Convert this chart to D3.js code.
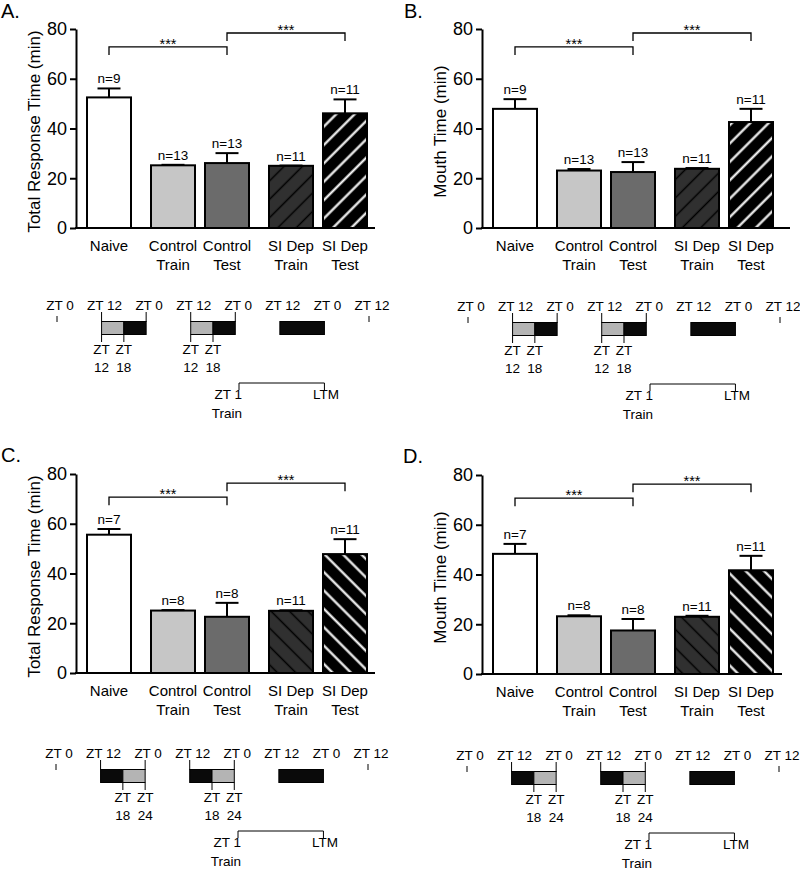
<!DOCTYPE html>
<html>
<head>
<meta charset="utf-8">
<script src="https://cdn.jsdelivr.net/npm/d3@7"></script>
<style>
  body { margin: 0; background: #fff; }
  svg { display: block; font-family: "Liberation Sans", Arial, Helvetica, sans-serif; }
</style>
</head>
<body>
<svg id="chart" width="800" height="870"></svg>
<script>
// ---------------- DATA ----------------
const categories = ["Naive", "Control Train", "Control Test", "SI Dep Train", "SI Dep Test"];
const categoryLines = [["Naive"], ["Control", "Train"], ["Control", "Test"], ["SI Dep", "Train"], ["SI Dep", "Test"]];
const categoryGroup = [0, 1, 1, 2, 2];
const yTicks = [0, 20, 40, 60, 80];

const meanA = [52.5, 25.2, 26.1, 25.0, 46.1];
const semA  = [3.6, 0.2, 4.0, 0.1, 5.6];
const nA    = [9, 13, 13, 11, 11];

const meanB = [47.9, 23.1, 22.5, 23.8, 42.6];
const semB  = [3.9, 0.6, 4.0, 0.3, 5.3];
const nB    = [9, 13, 13, 11, 11];

const meanC = [55.6, 25.1, 22.6, 25.0, 47.8];
const semC  = [2.3, 0.2, 5.6, 0.2, 6.0];
const nC    = [7, 8, 8, 11, 11];

const meanD = [48.3, 23.2, 17.5, 23.0, 41.7];
const semD  = [4.0, 0.4, 4.6, 0.4, 5.8];
const nD    = [7, 8, 8, 11, 11];

// significance brackets: [from category, to category, level (min)]
const sigTop    = [["Naive", "Control Test", 72.8, "***"], ["Control Test", "SI Dep Test", 78.4, "***"]];
const sigBottom = [["Naive", "Control Test", 70.7, "***"], ["Control Test", "SI Dep Test", 76.3, "***"]];

// timeline (hours from first ZT 0)
const ztHours  = [0, 12, 24, 36, 48, 60, 72, 84];
const ztLabels = ["ZT 0", "ZT 12", "ZT 0", "ZT 12", "ZT 0", "ZT 12", "ZT 0", "ZT 12"];
const boxEdgeTickHours = [12, 24, 36, 48];
const segmentsTop    = [[12, 18, "light"], [18, 24, "dark"], [36, 42, "light"], [42, 48, "dark"], [60, 72, "dark"]];
const segmentsBottom = [[12, 18, "dark"], [18, 24, "light"], [36, 42, "dark"], [42, 48, "light"], [60, 72, "dark"]];
const lowerTicksTop    = [[12, "12"], [18, "18"], [36, "12"], [42, "18"]];
const lowerTicksBottom = [[18, "18"], [24, "24"], [42, "18"], [48, "24"]];
const trainHour = 49, ltmHour = 72;
const trainLabel = ["ZT 1", "Train"], ltmLabel = "LTM";

// ---------------- LAYOUT ----------------
const panels = [
  { label: "A.", lx: 1,   ly: 18,  mean: meanA, sem: semA, n: nA, ylab: "Total Response Time (min)", sig: sigTop,
    axisX: 76,  yTop: 29,  yBot: 228, xEnd: 375, tlX0: 57,  tlBase: 310, seg: segmentsTop, low: lowerTicksTop, hatch: 45 },
  { label: "B.", lx: 404, ly: 18,  mean: meanB, sem: semB, n: nB, ylab: "Mouth Time (min)", sig: sigTop,
    axisX: 482, yTop: 29,  yBot: 228, xEnd: 790, tlX0: 468, tlBase: 311, seg: segmentsTop, low: lowerTicksTop, hatch: 45 },
  { label: "C.", lx: 1,   ly: 462, mean: meanC, sem: semC, n: nC, ylab: "Total Response Time (min)", sig: sigBottom,
    axisX: 76,  yTop: 474, yBot: 673, xEnd: 375, tlX0: 56,  tlBase: 758, seg: segmentsBottom, low: lowerTicksBottom, hatch: -45 },
  { label: "D.", lx: 403, ly: 463, mean: meanD, sem: semD, n: nD, ylab: "Mouth Time (min)", sig: sigBottom,
    axisX: 482, yTop: 475, yBot: 674, xEnd: 782, tlX0: 467, tlBase: 760, seg: segmentsBottom, low: lowerTicksBottom, hatch: -45 }
];

const svg = d3.select("#chart");
const defs = svg.append("defs");

function makePattern(id, angle, bg, lineColor, lw) {
  const W = 13;
  const p = defs.append("pattern").attr("id", id)
    .attr("patternUnits", "userSpaceOnUse").attr("width", W).attr("height", W)
    .attr("patternTransform", `rotate(${angle})`);
  p.append("rect").attr("width", W).attr("height", W).attr("fill", bg);
  p.append("line").attr("x1", W / 2).attr("x2", W / 2).attr("y1", -1).attr("y2", W + 1)
    .attr("stroke", lineColor).attr("stroke-width", lw);
}
makePattern("hatchDarkP", 45, "#303030", "#000", 1.5);
makePattern("hatchBlackP", 45, "#000", "#fff", 2.2);
makePattern("hatchDarkN", -45, "#303030", "#000", 1.5);
makePattern("hatchBlackN", -45, "#000", "#fff", 2.2);

function barFill(i, hatch) {
  const s = hatch > 0 ? "P" : "N";
  return ["#ffffff", "#c6c6c6", "#6b6b6b", `url(#hatchDark${s})`, `url(#hatchBlack${s})`][i];
}

panels.forEach(P => {
  const g = svg.append("g");
  g.append("text").attr("x", P.lx).attr("y", P.ly).attr("font-size", 20).text(P.label);

  const y = d3.scaleLinear().domain([0, 80]).range([P.yBot, P.yTop]);
  const gap = 10;
  const band = d3.scaleBand().domain(categories)
    .range([P.axisX + 11, P.axisX + 11 + 260]).paddingInner(10 / 54).paddingOuter(0);
  const bx = c => band(c) + categoryGroup[categories.indexOf(c)] * gap;
  const cx = c => bx(c) + band.bandwidth() / 2;

  // bars
  categories.forEach((c, i) => {
    g.append("rect").attr("x", bx(c)).attr("y", y(P.mean[i]))
      .attr("width", band.bandwidth()).attr("height", y(0) - y(P.mean[i]))
      .attr("fill", barFill(i, P.hatch)).attr("stroke", "#000").attr("stroke-width", 2);
    const top = y(P.mean[i] + P.sem[i]);
    g.append("line").attr("x1", cx(c)).attr("x2", cx(c)).attr("y1", y(P.mean[i])).attr("y2", top)
      .attr("stroke", "#000").attr("stroke-width", 2);
    g.append("line").attr("x1", cx(c) - 11.5).attr("x2", cx(c) + 11.5).attr("y1", top).attr("y2", top)
      .attr("stroke", "#000").attr("stroke-width", 2);
    g.append("text").attr("x", cx(c)).attr("y", top - 5).attr("text-anchor", "middle")
      .attr("font-size", 13.5).text("n=" + P.n[i]);
  });

  // y axis
  const ax = g.append("g").attr("transform", `translate(${P.axisX},0)`)
    .call(d3.axisLeft(y).tickValues(yTicks).tickSize(6).tickSizeOuter(0).tickPadding(3));
  ax.select(".domain").attr("stroke-width", 2);
  ax.selectAll(".tick line").attr("stroke-width", 2);
  ax.selectAll(".tick text").attr("font-size", 18).attr("fill", "#000")
    .attr("font-family", "Liberation Sans, Arial, sans-serif");
  // x axis line
  g.append("line").attr("x1", P.axisX - 1).attr("x2", P.xEnd).attr("y1", P.yBot).attr("y2", P.yBot)
    .attr("stroke", "#000").attr("stroke-width", 2);

  // y label
  g.append("text").attr("transform", `translate(${P.axisX - 36},${(P.yTop + P.yBot) / 2 + 3}) rotate(-90)`)
    .attr("text-anchor", "middle").attr("font-size", 17).text(P.ylab);

  // category labels
  categories.forEach((c, i) => {
    const t = g.append("text").attr("text-anchor", "middle").attr("font-size", 15);
    categoryLines[i].forEach((ln, k) => {
      t.append("tspan").attr("x", cx(c)).attr("y", P.yBot + 23 + k * 19).text(ln);
    });
  });

  // significance brackets
  P.sig.forEach(([a, b, lev, stars]) => {
    const yy = y(lev), drop = 8;
    g.append("path").attr("d", `M${cx(a)},${yy + drop}V${yy}H${cx(b)}V${yy + drop}`)
      .attr("fill", "none").attr("stroke", "#000").attr("stroke-width", 1.3);
    g.append("text").attr("x", (cx(a) + cx(b)) / 2).attr("y", yy + 2).attr("text-anchor", "middle")
      .attr("font-size", 14.5).text(stars);
  });

  // timeline
  const t = d3.scaleLinear().domain([0, 84]).range([P.tlX0, P.tlX0 + 312]);
  const B = P.tlBase;
  const tl = g.append("g").attr("font-size", 13.5);
  ztHours.forEach((h, i) => {
    tl.append("text").attr("x", t(h) + 3).attr("y", B).attr("text-anchor", "middle").text(ztLabels[i]);
  });
  [0, 84].forEach(h => {
    tl.append("line").attr("x1", t(h)).attr("x2", t(h)).attr("y1", B + 6).attr("y2", B + 12)
      .attr("stroke", "#000").attr("stroke-width", 1);
  });
  boxEdgeTickHours.forEach(h => {
    tl.append("line").attr("x1", t(h)).attr("x2", t(h)).attr("y1", B + 2).attr("y2", B + 12)
      .attr("stroke", "#000").attr("stroke-width", 1);
  });
  P.seg.forEach(([h0, h1, kind]) => {
    tl.append("rect").attr("x", t(h0)).attr("y", B + 11.5).attr("width", t(h1) - t(h0)).attr("height", 13)
      .attr("fill", kind === "dark" ? "#0a0a0a" : "#b4b4b4").attr("stroke", "#000").attr("stroke-width", 1);
  });
  P.low.forEach(([h, lab]) => {
    tl.append("line").attr("x1", t(h)).attr("x2", t(h)).attr("y1", B + 24.5).attr("y2", B + 32)
      .attr("stroke", "#000").attr("stroke-width", 1);
    tl.append("text").attr("x", t(h)).attr("y", B + 43.5).attr("text-anchor", "middle").text("ZT");
    tl.append("text").attr("x", t(h)).attr("y", B + 61.5).attr("text-anchor", "middle").text(lab);
  });
  tl.append("path").attr("d", `M${t(trainHour)},${B + 80}V${B + 73}H${t(ltmHour)}V${B + 80}`)
    .attr("fill", "none").attr("stroke", "#000").attr("stroke-width", 1);
  trainLabel.forEach((s, k) => {
    tl.append("text").attr("x", t(trainHour) + 3).attr("y", B + 89 + k * 19).attr("text-anchor", "end").text(s);
  });
  tl.append("text").attr("x", t(ltmHour) + 1.5).attr("y", B + 89).attr("text-anchor", "middle").text(ltmLabel);
});
</script>
</body>
</html>
